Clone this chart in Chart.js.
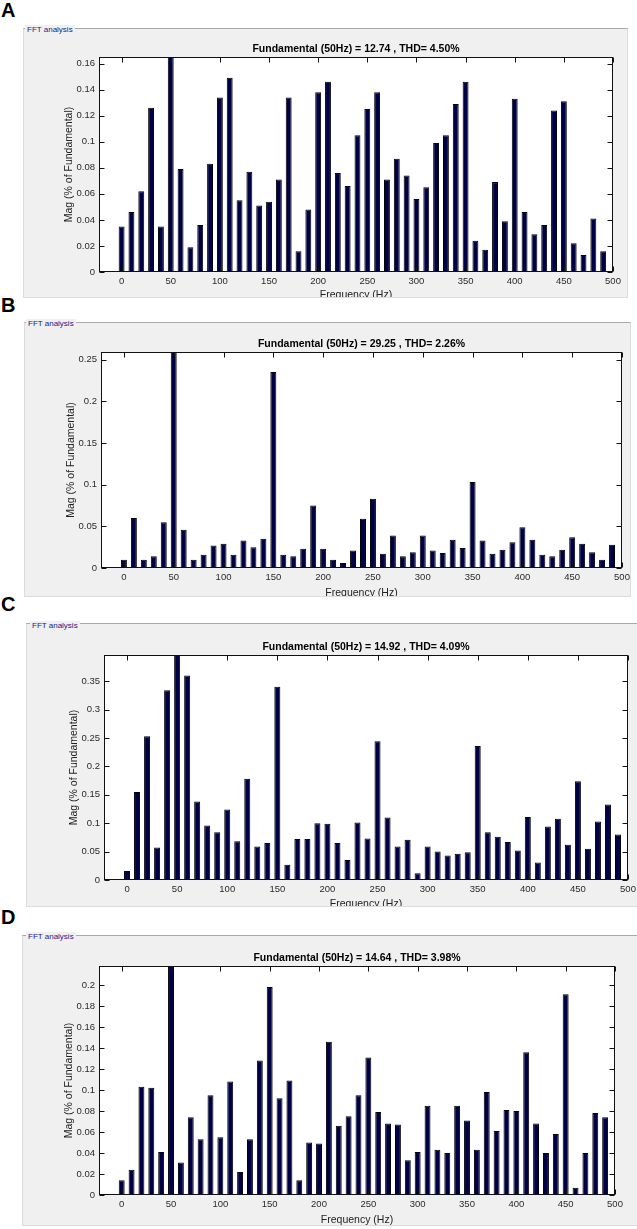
<!DOCTYPE html>
<html>
<head>
<meta charset="utf-8">
<title>FFT analysis</title>
<script src="https://cdn.jsdelivr.net/npm/chart.js@4.4.1/dist/chart.umd.min.js"></script>
<style>
  html, body { margin: 0; padding: 0; background: #fff; }
  body { width: 637px; height: 1229px; position: relative; overflow: hidden;
         font-family: "Liberation Sans", Arial, sans-serif; }
  .letter { position: absolute; left: 1px; font-weight: bold; font-size: 20px; line-height: 20px; color: #000; }
  .box { position: absolute; box-sizing: border-box; background: #f0f0f0; overflow: hidden;
         border: 1px solid #dcdcdc; border-top-color: #a9a9a9; }
  .box canvas { position: absolute; left: 0; top: 0; }
  .legend { position: absolute; font-size: 8px; line-height: 10px; color: #1a1a8c; background: #f0f0f0; padding: 0 2px; }
</style>
</head>
<body>
<script>
// harmonic frequencies (Hz)
const freqs = [0, 10, 20, 30, 40, 50, 60, 70, 80, 90,
  100, 110, 120, 130, 140, 150, 160, 170, 180, 190,
  200, 210, 220, 230, 240, 250, 260, 270, 280, 290,
  300, 310, 320, 330, 340, 350, 360, 370, 380, 390,
  400, 410, 420, 430, 440, 450, 460, 470, 480, 490];

// Mag (% of Fundamental); the 50 Hz fundamental is 100 and runs off the top
const magA = [0.035, 0.046, 0.062, 0.126, 0.035, 100, 0.079, 0.019, 0.036, 0.083,
  0.134, 0.149, 0.055, 0.077, 0.051, 0.054, 0.071, 0.134, 0.016, 0.048,
  0.138, 0.146, 0.076, 0.066, 0.105, 0.125, 0.138, 0.071, 0.087, 0.074,
  0.056, 0.065, 0.099, 0.105, 0.129, 0.146, 0.024, 0.017, 0.069, 0.039,
  0.133, 0.046, 0.029, 0.036, 0.124, 0.131, 0.022, 0.013, 0.041, 0.016];
const magB = [0.010, 0.060, 0.010, 0.014, 0.055, 100, 0.046, 0.010, 0.016, 0.027,
  0.029, 0.016, 0.033, 0.025, 0.035, 0.235, 0.016, 0.014, 0.023, 0.075,
  0.023, 0.010, 0.006, 0.021, 0.059, 0.083, 0.017, 0.039, 0.014, 0.019,
  0.039, 0.021, 0.018, 0.034, 0.024, 0.103, 0.033, 0.017, 0.022, 0.031,
  0.049, 0.034, 0.016, 0.014, 0.022, 0.037, 0.029, 0.019, 0.010, 0.028];
const magC = [0.016, 0.155, 0.253, 0.057, 0.334, 100, 0.360, 0.138, 0.096, 0.084,
  0.124, 0.068, 0.178, 0.059, 0.065, 0.340, 0.027, 0.072, 0.072, 0.100,
  0.099, 0.065, 0.035, 0.101, 0.073, 0.244, 0.110, 0.059, 0.071, 0.012,
  0.059, 0.050, 0.043, 0.046, 0.049, 0.236, 0.084, 0.076, 0.067, 0.052,
  0.111, 0.031, 0.094, 0.108, 0.062, 0.174, 0.055, 0.103, 0.133, 0.080];
const magD = [0.014, 0.024, 0.103, 0.102, 0.041, 100, 0.031, 0.074, 0.053, 0.095,
  0.055, 0.108, 0.022, 0.053, 0.128, 0.198, 0.092, 0.109, 0.014, 0.050,
  0.049, 0.146, 0.066, 0.075, 0.095, 0.131, 0.079, 0.068, 0.067, 0.033,
  0.041, 0.085, 0.043, 0.040, 0.085, 0.071, 0.043, 0.098, 0.061, 0.081,
  0.080, 0.136, 0.068, 0.040, 0.058, 0.191, 0.007, 0.040, 0.078, 0.074];

// tick labels
const xTicks = [0, 50, 100, 150, 200, 250, 300, 350, 400, 450, 500];
const yTicksA = [0, 0.02, 0.04, 0.06, 0.08, 0.1, 0.12, 0.14, 0.16];
const yTicksB = [0, 0.05, 0.1, 0.15, 0.2, 0.25];
const yTicksC = [0, 0.05, 0.1, 0.15, 0.2, 0.25, 0.3, 0.35];
const yTicksD = [0, 0.02, 0.04, 0.06, 0.08, 0.1, 0.12, 0.14, 0.16, 0.18, 0.2];

const titles = [
  'Fundamental (50Hz) = 12.74 , THD= 4.50%',
  'Fundamental (50Hz) = 29.25 , THD= 2.26%',
  'Fundamental (50Hz) = 14.92 , THD= 4.09%',
  'Fundamental (50Hz) = 14.64 , THD= 3.98%'
];
const letters = ['A', 'B', 'C', 'D'];

// page geometry of each panel (box, plot area, axis titles)
const panels = [
  { mag: magA, yTicks: yTicksA, yMax: 0.165, letterTop: 0,
    box: [23, 28, 628, 298], plot: [99, 57, 613, 272], xTitleY: 295, yTitleX: 69, legend: [27, 30] },
  { mag: magB, yTicks: yTicksB, yMax: 0.259, letterTop: 295,
    box: [24, 322, 631, 597], plot: [101, 352, 622, 568], xTitleY: 593, yTitleX: 71, legend: [28, 324] },
  { mag: magC, yTicks: yTicksC, yMax: 0.396, letterTop: 594,
    box: [26, 623, 640, 907], plot: [104, 655, 628, 880], xTitleY: 904, yTitleX: 74, legend: [32, 626] },
  { mag: magD, yTicks: yTicksD, yMax: 0.218, letterTop: 907,
    box: [22, 935, 640, 1226], plot: [99, 966, 615, 1195], xTitleY: 1220, yTitleX: 69, legend: [28, 937] }
];

const FONT = '"Liberation Sans", Arial, sans-serif';

const matlabAxes = {
  id: 'matlabAxes',
  beforeDraw(chart) {
    const a = chart.chartArea;
    const ctx = chart.ctx;
    ctx.save();
    ctx.fillStyle = '#fff';
    ctx.fillRect(a.left, a.top, a.right - a.left, a.bottom - a.top);
    ctx.restore();
  },
  afterDraw(chart, args, opts) {
    const { ctx, chartArea: a, scales: { x, y } } = chart;
    const L = Math.round(a.left) + 0.5, R = Math.round(a.right) - 0.5;
    const T = Math.round(a.top) + 0.5, B = Math.round(a.bottom) - 0.5;
    const len = 5;
    ctx.save();
    ctx.strokeStyle = '#111';
    ctx.lineWidth = 1;
    ctx.beginPath();
    x.ticks.forEach(t => {
      const px = Math.round(x.getPixelForValue(t.value)) + 0.5;
      ctx.moveTo(px, B); ctx.lineTo(px, B - len);
      ctx.moveTo(px, T); ctx.lineTo(px, T + len);
    });
    y.ticks.forEach(t => {
      const py = Math.round(y.getPixelForValue(t.value)) + 0.5;
      ctx.moveTo(L, py); ctx.lineTo(L + len, py);
      ctx.moveTo(R, py); ctx.lineTo(R - len, py);
    });
    ctx.stroke();
    ctx.strokeRect(L, T, R - L, B - T);
    ctx.fillStyle = '#000';
    ctx.font = 'bold 10.5px ' + FONT;
    ctx.textAlign = 'center';
    ctx.textBaseline = 'middle';
    ctx.fillText(opts.title, (a.left + a.right) / 2, a.top - 8);
    ctx.restore();
  }
};

function fmt(v) {
  return String(Number(v.toFixed(4)));
}

panels.forEach((p, i) => {
  const [bx0, by0, bx1, by1] = p.box;
  const [pl, pt, pr, pb] = p.plot;

  const lt = document.createElement('div');
  lt.className = 'letter';
  lt.style.top = p.letterTop + 'px';
  lt.textContent = letters[i];
  document.body.appendChild(lt);

  const box = document.createElement('div');
  box.className = 'box';
  box.style.left = bx0 + 'px';
  box.style.top = by0 + 'px';
  box.style.width = (bx1 - bx0) + 'px';
  box.style.height = (by1 - by0) + 'px';
  document.body.appendChild(box);

  const lg = document.createElement('div');
  lg.className = 'legend';
  lg.style.left = (p.legend[0] - 2) + 'px';
  lg.style.top = (p.legend[1] - 5) + 'px';
  lg.textContent = 'FFT analysis';
  document.body.appendChild(lg);

  // canvas origin sits inside the 1px border
  const cx = bx0 + 1, cy = by0 + 1;
  const cw = bx1 - bx0 - 2;
  const ch = p.xTitleY - cy + 6;
  const canvas = document.createElement('canvas');
  canvas.width = cw;
  canvas.height = ch;
  canvas.style.width = cw + 'px';
  canvas.style.height = ch + 'px';
  box.appendChild(canvas);

  const yAxisWidth = pl - cx;
  const xAxisHeight = ch - (pb - cy);

  new Chart(canvas, {
    type: 'bar',
    data: {
      datasets: [{
        data: freqs.map((f, k) => ({ x: f, y: p.mag[k] })),
        backgroundColor: '#000044',
        borderColor: '#000008',
        borderWidth: 1,
        borderSkipped: 'start',
        barPercentage: 0.6,
        categoryPercentage: 1,
        clip: 0
      }]
    },
    options: {
      responsive: false,
      animation: false,
      devicePixelRatio: 1,
      layout: { padding: { top: pt - cy, right: cw - (pr - cx), bottom: 0, left: 0 } },
      plugins: {
        legend: { display: false },
        tooltip: { enabled: false },
        matlabAxes: { title: titles[i] }
      },
      scales: {
        x: {
          type: 'linear',
          min: -23,
          max: 500,
          offset: false,
          grid: { display: false, drawTicks: false },
          border: { display: false },
          afterBuildTicks: s => { s.ticks = xTicks.map(v => ({ value: v })); },
          afterFit: s => { s.height = xAxisHeight; s.paddingLeft = 0; s.paddingRight = 0; },
          ticks: { padding: 4, color: '#2a2a2a', font: { family: FONT, size: 9.5 }, maxRotation: 0, callback: v => fmt(v) },
          title: { display: true, text: 'Frequency (Hz)', color: '#222',
                   font: { family: FONT, size: 10.5 }, padding: { top: 0, bottom: 0 } }
        },
        y: {
          min: 0,
          max: p.yMax,
          grid: { display: false, drawTicks: false },
          border: { display: false },
          afterBuildTicks: s => { s.ticks = p.yTicks.map(v => ({ value: v })); },
          afterFit: s => { s.width = yAxisWidth; s.paddingTop = 0; s.paddingBottom = 0; },
          ticks: { padding: 4, color: '#2a2a2a', font: { family: FONT, size: 9.5 }, callback: v => fmt(v) },
          title: { display: true, text: 'Mag (% of Fundamental)', color: '#222',
                   font: { family: FONT, size: 10.5 }, padding: { top: p.yTitleX - cx - 6.3, bottom: 0 } }
        }
      }
    },
    plugins: [matlabAxes]
  });
});
</script>
</body>
</html>
